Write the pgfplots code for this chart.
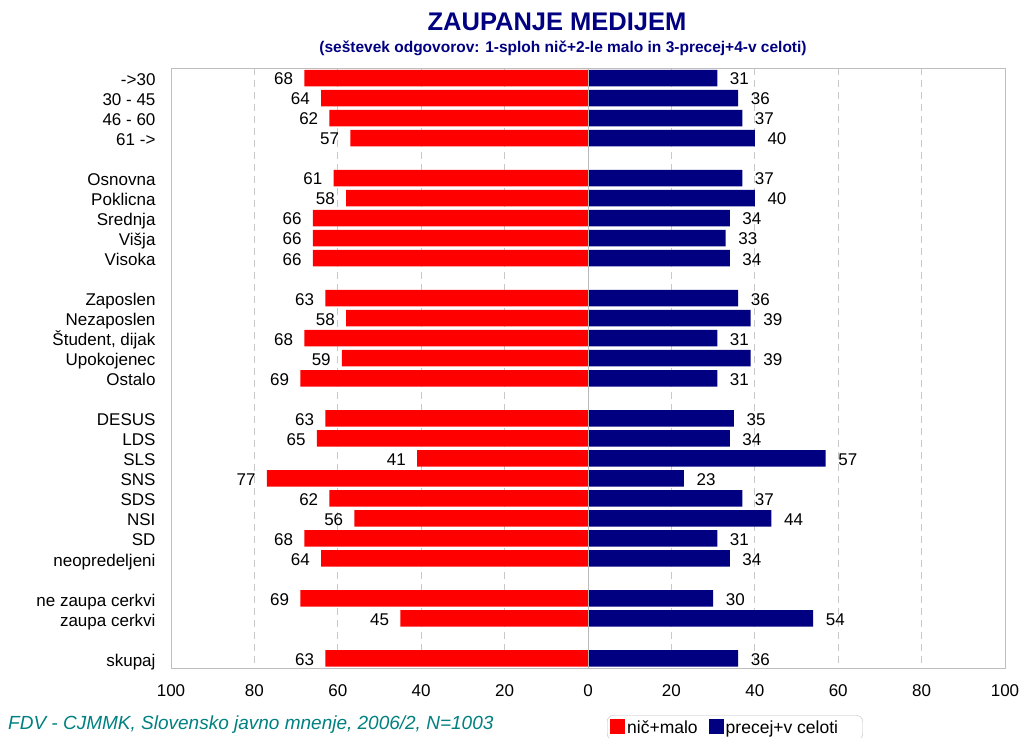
\documentclass[border=0pt]{standalone}
\usepackage{pgfplots}
\pgfplotsset{compat=1.18}
\usepackage{pgfplotstable}
\usepackage{fontspec}
\setmainfont{Liberation Sans}
\definecolor{navyc}{RGB}{0,0,128}
\definecolor{tealc}{RGB}{0,128,128}
\definecolor{gridc}{RGB}{200,200,200}
\definecolor{framec}{RGB}{190,190,190}

\pgfplotstableread{
pos nic pre
0 68 31
1 64 36
2 62 37
3 57 40
5 61 37
6 58 40
7 66 34
8 66 33
9 66 34
11 63 36
12 58 39
13 68 31
14 59 39
15 69 31
17 63 35
18 65 34
19 41 57
20 77 23
21 62 37
22 56 44
23 68 31
24 64 34
26 69 30
27 45 54
29 63 36
}\data

\begin{document}
\begin{tikzpicture}
\begin{axis}[
  at={(171pt,68.5pt)}, anchor=south west,
  width=834pt, height=600.5pt, scale only axis,
  xmin=-100, xmax=100, ymin=-0.5, ymax=29.5,
  y dir=reverse,
  /pgf/number format/assume math mode=true,
  axis line style={framec},
  major tick length=0pt,
  xtick={-100,-80,-60,-40,-20,0,20,40,60,80,100},
  xticklabels={100,80,60,40,20,0,20,40,60,80,100},
  ytick={0,1,2,3,5,6,7,8,9,11,12,13,14,15,17,18,19,20,21,22,23,24,26,27,29},
  yticklabels={->30,30 - 45,46 - 60,61 ->,Osnovna,Poklicna,Srednja,Višja,Visoka,Zaposlen,Nezaposlen,{Študent, dijak},Upokojenec,Ostalo,DESUS,LDS,SLS,SNS,SDS,NSI,SD,neopredeljeni,ne zaupa cerkvi,zaupa cerkvi,skupaj},
  ticklabel style={font=\fontsize{17}{20}\selectfont},
  xticklabel style={yshift=-13pt},
  yticklabel style={xshift=-12pt, text height=12.2pt, text depth=0pt, yshift=-1.5pt},
  xmajorgrids,
  grid style={gridc, dash pattern=on 7pt off 5pt, line width=0.8pt},
  clip=false,
  legend columns=2,
  legend style={at={(axis description cs:0.5228,-0.078)}, anchor=north west,
    draw=framec, rounded corners=6pt, font=\fontsize{17.5}{20}\selectfont,
    inner xsep=3pt, inner ysep=3pt,
    /tikz/every even column/.append style={column sep=9pt}},
]
\addplot[xbar, bar width=16.5pt, bar shift=0pt, fill=red, draw=none,
  legend image code/.code={\fill[red, sharp corners] (0pt,-6pt) rectangle (15pt,9pt);},
  nodes near coords={\makebox[0pt][r]{\pgfmathprintnumber{\pgfplotspointmeta}}},
  nodes near coords align=horizontal,
  every node near coord/.append style={inner sep=0pt, xshift=-12pt, yshift=-1pt, font=\fontsize{17}{20}\selectfont, text=black}]
  table[y=pos, x expr=-\thisrow{nic}, point meta=\thisrow{nic}] {\data};
\addlegendentry{nič+malo}
\addplot[xbar, bar width=16.5pt, bar shift=0pt, fill=navyc, draw=none,
  legend image code/.code={\fill[navyc, sharp corners] (0pt,-6pt) rectangle (15pt,9pt);},
  nodes near coords={\makebox[0pt][l]{\pgfmathprintnumber{\pgfplotspointmeta}}},
  nodes near coords align=horizontal,
  every node near coord/.append style={inner sep=0pt, xshift=12pt, yshift=-1pt, font=\fontsize{17}{20}\selectfont, text=black}]
  table[y=pos, x=pre, point meta=\thisrow{pre}] {\data};
\addlegendentry{\makebox[132pt][l]{precej+v celoti}}
\addplot[gridc!80!gray, line width=1pt, forget plot] coordinates {(0,-0.5) (0,29.5)};
\end{axis}
\node[font=\bfseries\fontsize{25.5}{30}\selectfont, text=navyc] at (557pt,715pt) {ZAUPANJE MEDIJEM};
\node[font=\bfseries\fontsize{15.5}{18}\selectfont, text=navyc] at (563pt,689pt) {(seštevek odgovorov: 1-sploh nič+2-le malo in 3-precej+4-v celoti)};
\node[anchor=base west, inner sep=0pt, font=\itshape\fontsize{19}{22}\selectfont, text=tealc] at (8pt,8pt) {FDV - CJMMK, Slovensko javno mnenje, 2006/2, N=1003};
\pgfresetboundingbox
\useasboundingbox (0,0) rectangle (1021pt,737pt);
\end{tikzpicture}
\end{document}
